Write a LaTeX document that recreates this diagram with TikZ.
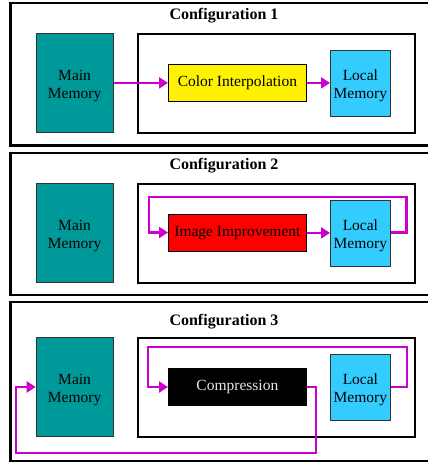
\documentclass[tikz,border=0pt]{standalone}
\usepackage{fontspec}
\setmainfont{Liberation Serif}
\usetikzlibrary{arrows.meta}
\definecolor{teal1}{RGB}{0,153,153}
\definecolor{sky1}{RGB}{51,204,255}
\definecolor{mag1}{RGB}{204,0,204}
\definecolor{comptext}{RGB}{230,230,230}
\newcommand{\lowstrut}{\rule{0pt}{16.5pt}}
\begin{document}
\begin{tikzpicture}[x=1pt,y=-1pt,
  outerbox/.style={draw=black,line width=2.6pt},
  innerbox/.style={draw=black,line width=1.5pt},
  title/.style={font=\fontsize{16}{18}\selectfont\bfseries,inner sep=0pt},
  mainmem/.style={draw=black!80,line width=0.8pt,fill=teal1,minimum width=77pt,minimum height=99pt,inner sep=0pt,align=center,font=\fontsize{15.5}{18}\selectfont},
  localmem/.style={draw=black!80,line width=0.8pt,fill=sky1,minimum width=60pt,minimum height=66pt,inner sep=0pt,align=center,font=\fontsize{15.5}{18}\selectfont},
  proc/.style={draw=black,line width=0.8pt,minimum width=138pt,minimum height=37pt,inner sep=0pt,font=\fontsize{15.5}{18}\selectfont},
  flow/.style={draw=mag1,line width=2.2pt,-{Triangle[length=9pt,width=11pt]}}]
\useasboundingbox (0,0) rectangle (428,464);
\begin{scope}
\clip (0,0) rectangle (428,464);
% panel outer boxes
\draw[outerbox] (10.5,3) rectangle (445,145.5);
\draw[outerbox] (10.5,153) rectangle (445,295);
\draw[outerbox] (10.5,302) rectangle (445,461);
\end{scope}

% ===== Configuration 1 =====
\node[title] (t1) at (224,16) {Configuration 1};
\node[mainmem,anchor=north west] (mm1) at (35.7,33) {\lowstrut Main\\Memory};
\node[innerbox,draw,minimum width=277pt,minimum height=99pt,inner sep=0pt,anchor=north west] (ib1) at (137,33) {};
\node[proc,fill=yellow,anchor=north west] (ci) at (168,64) {Color Interpolation};
\node[localmem,anchor=north west] (lm1) at (330,50) {\lowstrut Local\\Memory};
\draw[flow] (mm1.east |- ci.west) -- (ci.west);
\draw[flow] (ci.east) -- (lm1.west |- ci.east);

% ===== Configuration 2 =====
\node[title] (t2) at (224,166) {Configuration 2};
\node[mainmem,anchor=north west] (mm2) at (35.7,183.3) {\lowstrut Main\\Memory};
\node[innerbox,draw,minimum width=277pt,minimum height=98.7pt,inner sep=0pt,anchor=north west] (ib2) at (137,183.3) {};
\node[proc,fill=red,anchor=north west] (ii) at (168,214) {Image Improvement};
\node[localmem,anchor=north west] (lm2) at (330,200) {\lowstrut Local\\Memory};
\draw[flow] (ii.east) -- (lm2.west |- ii.east);
\coordinate (c2a) at (406.5,232.5);
\coordinate (c2b) at (406.5,197);
\coordinate (c2c) at (149,197);
\coordinate (c2d) at (149,232.5);
\draw[flow] (lm2.east |- c2a) -- (c2a) -- (c2b) -- (c2c) -- (c2d) -- (ii.west |- c2d);

% ===== Configuration 3 =====
\node[title] (t3) at (224,322) {Configuration 3};
\node[mainmem,anchor=north west] (mm3) at (35.7,337) {\lowstrut Main\\Memory};
\node[innerbox,draw,minimum width=277pt,minimum height=99pt,inner sep=0pt,anchor=north west] (ib3) at (137,337) {};
\node[proc,fill=black,text=comptext,anchor=north west] (cp) at (168,368) {Compression};
\node[localmem,anchor=north west] (lm3) at (330,354) {\lowstrut Local\\Memory};
\coordinate (c3a) at (407,387);
\coordinate (c3b) at (407,347);
\coordinate (c3c) at (148,347);
\coordinate (c3d) at (148,387);
\draw[flow] (lm3.east |- c3a) -- (c3a) -- (c3b) -- (c3c) -- (c3d) -- (cp.west |- c3d);
\coordinate (c3e) at (316,387);
\coordinate (c3f) at (316,453);
\coordinate (c3g) at (16,453);
\coordinate (c3h) at (16,387);
\draw[flow] (cp.east |- c3e) -- (c3e) -- (c3f) -- (c3g) -- (c3h) -- (mm3.west |- c3h);
\end{tikzpicture}
\end{document}
